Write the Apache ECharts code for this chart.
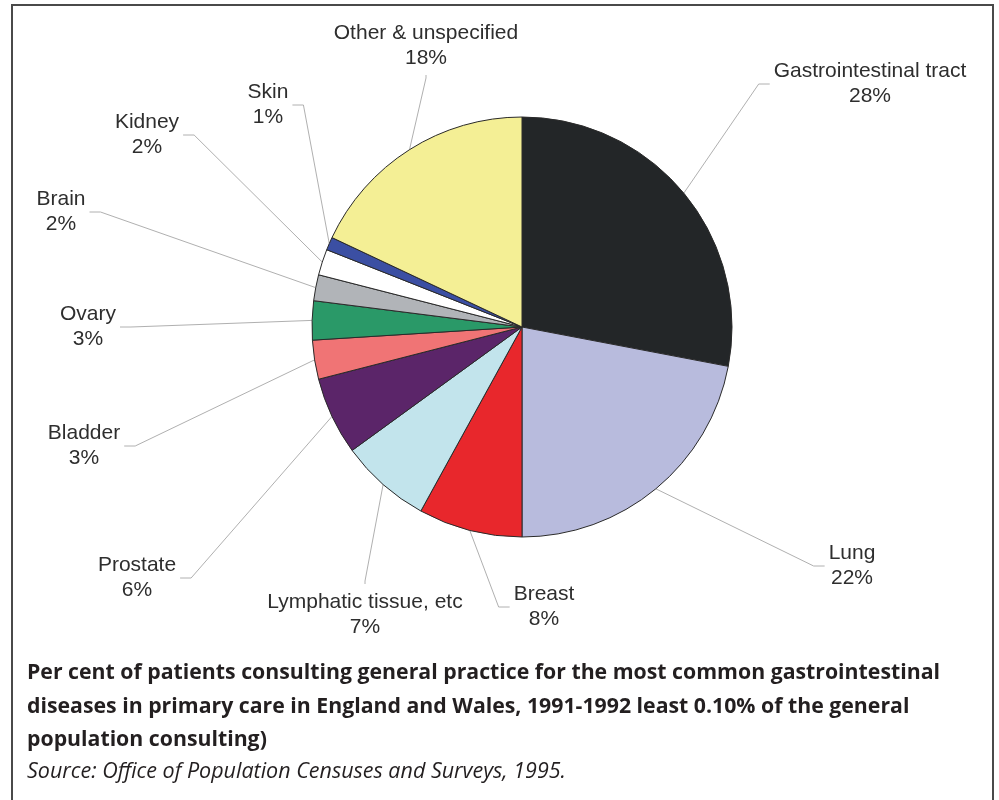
<!DOCTYPE html>
<html>
<head>
<meta charset="utf-8">
<script src="https://cdn.jsdelivr.net/npm/echarts@6/dist/echarts.min.js"></script>
<style>
html, body { margin: 0; padding: 0; background: #ffffff; }
#chart { width: 999px; height: 800px; }
</style>
</head>
<body>
<div id="chart"></div>
<script>
// ---- data ----
const categories = [
  'Gastrointestinal tract', 'Lung', 'Breast', 'Lymphatic tissue, etc', 'Prostate',
  'Bladder', 'Ovary', 'Brain', 'Kidney', 'Skin', 'Other & unspecified'
];
const values = [28, 22, 8, 7, 6, 3, 3, 2, 2, 1, 18];
const sliceColors = [
  '#232628', '#b8bbdd', '#e8272c', '#c2e4ec', '#5b2569',
  '#f07475', '#2a9968', '#b1b4b8', '#ffffff', '#3b4fa3', '#f4ef95'
];
const titleLines = [
  'Per cent of patients consulting general practice for the most common gastrointestinal',
  'diseases in primary care in England and Wales, 1991-1992 least 0.10% of the general',
  'population consulting)'
];
const sourceText = 'Source: Office of Population Censuses and Surveys, 1995.';

// ---- layout (label block centre + side the leader line attaches to) ----
const labelPlacement = [
  [870, 84, 'left'],
  [852, 566, 'left'],
  [544, 607, 'left'],
  [365, 615, 'top'],
  [137, 578, 'right'],
  [84, 446, 'right'],
  [88, 327, 'right'],
  [61, 212, 'right'],
  [147, 135, 'right'],
  [268, 105, 'right'],
  [426, 46, 'bottom']
];

const mctx = document.createElement('canvas').getContext('2d');
function measure(font, text) { mctx.font = font; return mctx.measureText(text).width; }

const titleFont = 'bold 22px "Open Sans"';
const sourceFont = 'italic 21px "Open Sans"';
const titleScale = 913 / measure(titleFont, titleLines[0]);
const sourceScale = 539 / measure(sourceFont, sourceText);
const titleY = [673, 706.5, 740];

const graphics = [{
  type: 'rect',
  shape: { x: 12, y: 5, width: 981, height: 900 },
  style: { fill: 'none', stroke: '#4a4a4a', lineWidth: 2 },
  silent: true
}];
titleLines.forEach(function (t, i) {
  graphics.push({
    type: 'text', x: 27, y: titleY[i], scaleX: titleScale,
    style: { x: 0, y: 0, text: t, font: titleFont, fill: '#231f20', align: 'left', verticalAlign: 'middle' },
    silent: true
  });
});
graphics.push({
  type: 'text', x: 27, y: 772, scaleX: sourceScale,
  style: { x: 0, y: 0, text: sourceText, font: sourceFont, fill: '#231f20', align: 'left', verticalAlign: 'middle' },
  silent: true
});

const chart = echarts.init(document.getElementById('chart'), null, { renderer: 'canvas' });
chart.setOption({
  animation: false,
  backgroundColor: '#ffffff',
  graphic: graphics,
  series: [{
    type: 'pie',
    center: [522, 327],
    radius: 210,
    startAngle: 90,
    clockwise: true,
    avoidLabelOverlap: false,
    data: categories.map(function (c, i) {
      return { name: c, value: values[i], itemStyle: { color: sliceColors[i] } };
    }),
    itemStyle: { borderColor: '#2a2a2a', borderWidth: 1 },
    label: {
      show: true,
      position: 'outside',
      formatter: '{b}\n{c}%',
      fontFamily: '"Liberation Sans", Arial, sans-serif',
      fontSize: 21,
      lineHeight: 25,
      color: '#2e2e2e',
      align: 'center'
    },
    labelLine: {
      show: true,
      length: 10,
      length2: 10,
      lineStyle: { color: '#b0b0b0', width: 1 }
    },
    emphasis: { disabled: true },
    labelLayout: function (params) {
      const p = labelPlacement[params.dataIndex];
      const w = params.labelRect.width, h = params.labelRect.height;
      const cx = p[0], cy = p[1], side = p[2];
      let end, bend;
      if (side === 'left') { end = [cx - w / 2 - 4, cy]; bend = [end[0] - 11, cy]; }
      else if (side === 'right') { end = [cx + w / 2 + 4, cy]; bend = [end[0] + 11, cy]; }
      else if (side === 'top') { end = [cx, cy - h / 2 - 6]; bend = [cx, end[1] - 3]; }
      else { end = [cx, cy + h / 2 + 4]; bend = [cx, end[1] + 3]; }
      const res = { x: cx, y: cy, align: 'center', verticalAlign: 'middle' };
      if (params.labelLinePoints && params.labelLinePoints[0]) {
        const a = params.labelLinePoints[0];
        res.labelLinePoints = [[a[0], a[1]], bend, end];
      }
      return res;
    }
  }]
});
</script>
</body>
</html>
